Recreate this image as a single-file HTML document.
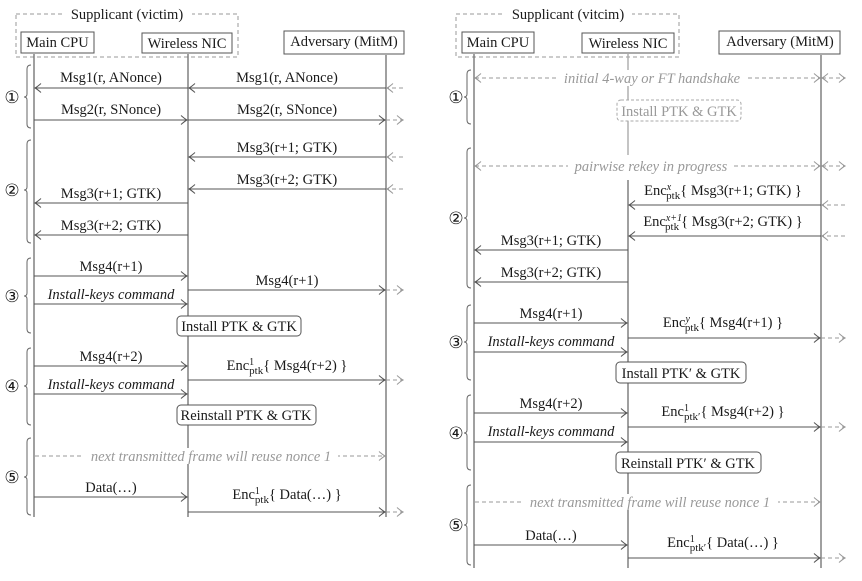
<!DOCTYPE html>
<html><head><meta charset="utf-8"><style>
html,body{margin:0;padding:0;background:#fff;}
svg{display:block;font-family:"Liberation Serif",serif;}
text{font-size:14.5px;fill:#1a1a1a;}
.i{font-style:italic;}
.g{fill:#999;}
.ln{stroke:#555;stroke-width:1;fill:none;}
.ll{stroke:#777;stroke-width:1.4;fill:none;}
.dd{stroke:#999;stroke-width:1;stroke-dasharray:4,3;fill:none;}
.br{stroke:#666;stroke-width:1;fill:none;}
.c{font-family:"DejaVu Sans",sans-serif;font-size:17px;}
</style></head><body>
<svg width="862" height="581" viewBox="0 0 862 581" xmlns="http://www.w3.org/2000/svg">
<defs>
<marker id="a" markerUnits="userSpaceOnUse" markerWidth="12" markerHeight="12" refX="0" refY="0" viewBox="-8 -6 10 12" orient="auto"><path d="M-6,-4.5 Q-2,-1 0,0 Q-2,1 -6,4.5" fill="none" stroke="#555" stroke-width="1"/></marker>
<marker id="b" markerUnits="userSpaceOnUse" markerWidth="12" markerHeight="12" refX="0" refY="0" viewBox="-8 -6 10 12" orient="auto"><path d="M-6,-4.5 Q-2,-1 0,0 Q-2,1 -6,4.5" fill="none" stroke="#999" stroke-width="1"/></marker>
<marker id="bs" markerUnits="userSpaceOnUse" markerWidth="12" markerHeight="12" refX="0" refY="0" viewBox="-2 -6 10 12" orient="auto"><path d="M6,-4.5 Q2,-1 0,0 Q2,1 6,4.5" fill="none" stroke="#999" stroke-width="1"/></marker>
</defs>

<!-- ============ LEFT PANEL ============ -->
<rect x="16" y="14" width="222" height="43" class="dd" stroke="#777"/>
<rect x="64" y="6" width="128" height="16" fill="#fff"/>
<text x="127" y="19" text-anchor="middle">Supplicant (victim)</text>
<rect x="21" y="32" width="73" height="21" fill="#fff" stroke="#555"/>
<text x="57.5" y="47" text-anchor="middle">Main CPU</text>
<rect x="142" y="33" width="90" height="20" fill="#fff" stroke="#555"/>
<text x="187" y="48" text-anchor="middle">Wireless NIC</text>
<rect x="284" y="31" width="120" height="23" fill="#fff" stroke="#555"/>
<text x="344" y="46" text-anchor="middle">Adversary (MitM)</text>
<line x1="34" y1="54" x2="34" y2="517" class="ll"/>
<line x1="188" y1="54" x2="188" y2="517" class="ll"/>
<line x1="386" y1="55" x2="386" y2="517" class="ll"/>

<path class="br" d="M31,65 Q27,65 27,69 L27,94 Q27,97 24,97 Q27,97 27,100 L27,124 Q27,128 31,128"/>
<text x="12" y="103" text-anchor="middle" class="c">①</text>
<path class="br" d="M31,140 Q27,140 27,144 L27,187 Q27,190 24,190 Q27,190 27,193 L27,239 Q27,243 31,243"/>
<text x="12" y="196" text-anchor="middle" class="c">②</text>
<path class="br" d="M31,258 Q27,258 27,262 L27,293 Q27,296 24,296 Q27,296 27,299 L27,329 Q27,333 31,333"/>
<text x="12" y="302" text-anchor="middle" class="c">③</text>
<path class="br" d="M31,348 Q27,348 27,352 L27,383 Q27,386 24,386 Q27,386 27,389 L27,421 Q27,425 31,425"/>
<text x="12" y="392" text-anchor="middle" class="c">④</text>
<path class="br" d="M31,438 Q27,438 27,442 L27,474 Q27,477 24,477 Q27,477 27,480 L27,511 Q27,515 31,515"/>
<text x="12" y="483" text-anchor="middle" class="c">⑤</text>

<line x1="188" y1="88" x2="35" y2="88" class="ln" marker-end="url(#a)"/>
<text x="111" y="82" text-anchor="middle">Msg1(r, ANonce)</text>
<line x1="386" y1="88" x2="189" y2="88" class="ln" marker-end="url(#a)"/>
<text x="287" y="82" text-anchor="middle">Msg1(r, ANonce)</text>
<line x1="403" y1="88" x2="387" y2="88" class="dd" marker-end="url(#b)"/>

<line x1="34" y1="120" x2="187" y2="120" class="ln" marker-end="url(#a)"/>
<text x="111" y="114" text-anchor="middle">Msg2(r, SNonce)</text>
<line x1="188" y1="120" x2="385" y2="120" class="ln" marker-end="url(#a)"/>
<text x="287" y="114" text-anchor="middle">Msg2(r, SNonce)</text>
<line x1="386" y1="120" x2="403" y2="120" class="dd" marker-end="url(#b)"/>

<line x1="386" y1="157" x2="189" y2="157" class="ln" marker-end="url(#a)"/>
<text x="287" y="152" text-anchor="middle">Msg3(r+1; GTK)</text>
<line x1="403" y1="157" x2="387" y2="157" class="dd" marker-end="url(#b)"/>
<line x1="386" y1="189" x2="189" y2="189" class="ln" marker-end="url(#a)"/>
<text x="287" y="184" text-anchor="middle">Msg3(r+2; GTK)</text>
<line x1="403" y1="189" x2="387" y2="189" class="dd" marker-end="url(#b)"/>

<line x1="188" y1="203" x2="35" y2="203" class="ln" marker-end="url(#a)"/>
<text x="111" y="198" text-anchor="middle">Msg3(r+1; GTK)</text>
<line x1="188" y1="235" x2="35" y2="235" class="ln" marker-end="url(#a)"/>
<text x="111" y="230" text-anchor="middle">Msg3(r+2; GTK)</text>

<line x1="34" y1="276" x2="187" y2="276" class="ln" marker-end="url(#a)"/>
<text x="111" y="271" text-anchor="middle">Msg4(r+1)</text>
<line x1="188" y1="290" x2="385" y2="290" class="ln" marker-end="url(#a)"/>
<text x="287" y="285" text-anchor="middle">Msg4(r+1)</text>
<line x1="386" y1="290" x2="403" y2="290" class="dd" marker-end="url(#b)"/>
<line x1="34" y1="304" x2="187" y2="304" class="ln" marker-end="url(#a)"/>
<text x="111" y="299" text-anchor="middle" class="i">Install-keys command</text>
<rect x="177" y="316" width="124" height="20" rx="4" fill="#fff" stroke="#555"/>
<text x="239" y="331" text-anchor="middle">Install PTK &amp; GTK</text>

<line x1="34" y1="366" x2="187" y2="366" class="ln" marker-end="url(#a)"/>
<text x="111" y="361" text-anchor="middle">Msg4(r+2)</text>
<line x1="188" y1="380" x2="385" y2="380" class="ln" marker-end="url(#a)"/>
<text x="287" y="370" text-anchor="middle">Enc<tspan font-size="10" dy="-5">1</tspan><tspan font-size="11" dx="-5" dy="9">ptk</tspan><tspan dy="-4">{ Msg4(r+2) }</tspan></text>
<line x1="386" y1="380" x2="403" y2="380" class="dd" marker-end="url(#b)"/>
<line x1="34" y1="394" x2="187" y2="394" class="ln" marker-end="url(#a)"/>
<text x="111" y="389" text-anchor="middle" class="i">Install-keys command</text>
<rect x="177" y="405" width="139" height="20" rx="4" fill="#fff" stroke="#555"/>
<text x="246" y="420" text-anchor="middle">Reinstall PTK &amp; GTK</text>

<line x1="35" y1="456" x2="385" y2="456" class="dd" marker-end="url(#b)"/>
<rect x="84" y="448" width="254" height="16" fill="#fff"/>
<text x="211" y="461" text-anchor="middle" class="i g">next transmitted frame will reuse nonce 1</text>

<line x1="34" y1="497" x2="187" y2="497" class="ln" marker-end="url(#a)"/>
<text x="111" y="492" text-anchor="middle">Data(…)</text>
<line x1="188" y1="512" x2="385" y2="512" class="ln" marker-end="url(#a)"/>
<text x="287" y="499" text-anchor="middle">Enc<tspan font-size="10" dy="-5">1</tspan><tspan font-size="11" dx="-5" dy="9">ptk</tspan><tspan dy="-4">{ Data(…) }</tspan></text>
<line x1="386" y1="512" x2="403" y2="512" class="dd" marker-end="url(#b)"/>

<!-- ============ RIGHT PANEL ============ -->
<rect x="456" y="14" width="223" height="43" class="dd" stroke="#777"/>
<rect x="504" y="6" width="128" height="16" fill="#fff"/>
<text x="568" y="19" text-anchor="middle">Supplicant (vitcim)</text>
<rect x="462" y="32" width="72" height="21" fill="#fff" stroke="#555"/>
<text x="498" y="47" text-anchor="middle">Main CPU</text>
<rect x="582" y="33" width="92" height="20" fill="#fff" stroke="#555"/>
<text x="628" y="48" text-anchor="middle">Wireless NIC</text>
<rect x="719" y="31" width="121" height="23" fill="#fff" stroke="#555"/>
<text x="780" y="46" text-anchor="middle">Adversary (MitM)</text>
<line x1="474" y1="54" x2="474" y2="568" class="ll"/>
<line x1="628" y1="54" x2="628" y2="155" stroke="#aaa" stroke-width="1.4"/>
<line x1="628" y1="180" x2="628" y2="568" class="ll"/>
<line x1="821" y1="55" x2="821" y2="568" class="ll"/>

<path class="br" d="M471,70 Q467,70 467,74 L467,94 Q467,97 464,97 Q467,97 467,100 L467,120 Q467,124 471,124"/>
<text x="456" y="103" text-anchor="middle" class="c">①</text>
<path class="br" d="M471,148 Q467,148 467,152 L467,215 Q467,218 464,218 Q467,218 467,221 L467,284 Q467,288 471,288"/>
<text x="456" y="224" text-anchor="middle" class="c">②</text>
<path class="br" d="M471,305 Q467,305 467,309 L467,339 Q467,342 464,342 Q467,342 467,345 L467,376 Q467,380 471,380"/>
<text x="456" y="348" text-anchor="middle" class="c">③</text>
<path class="br" d="M471,395 Q467,395 467,399 L467,430 Q467,433 464,433 Q467,433 467,436 L467,466 Q467,470 471,470"/>
<text x="456" y="439" text-anchor="middle" class="c">④</text>
<path class="br" d="M471,485 Q467,485 467,489 L467,522 Q467,525 464,525 Q467,525 467,528 L467,561 Q467,565 471,565"/>
<text x="456" y="531" text-anchor="middle" class="c">⑤</text>

<line x1="475" y1="78" x2="820" y2="78" class="dd" marker-start="url(#bs)" marker-end="url(#b)"/>
<line x1="822" y1="78" x2="845" y2="78" class="dd" marker-start="url(#bs)" marker-end="url(#b)"/>
<rect x="558" y="70" width="188" height="16" fill="#fff"/>
<text x="652" y="83" text-anchor="middle" class="i g">initial 4-way or FT handshake</text>
<rect x="617" y="100" width="124" height="21" rx="4" fill="#fff" stroke="#aaa" stroke-dasharray="3,2"/>
<text x="679" y="116" text-anchor="middle" class="g">Install PTK &amp; GTK</text>

<line x1="475" y1="166" x2="820" y2="166" class="dd" marker-start="url(#bs)" marker-end="url(#b)"/>
<line x1="822" y1="166" x2="845" y2="166" class="dd" marker-start="url(#bs)" marker-end="url(#b)"/>
<rect x="568" y="158" width="166" height="16" fill="#fff"/>
<text x="651" y="171" text-anchor="middle" class="i g">pairwise rekey in progress</text>

<line x1="821" y1="205" x2="629" y2="205" class="ln" marker-end="url(#a)"/>
<text x="723" y="195" text-anchor="middle">Enc<tspan font-size="10" class="i" dy="-5">x</tspan><tspan font-size="11" dx="-5" dy="9">ptk</tspan><tspan dy="-4">{ Msg3(r+1; GTK) }</tspan></text>
<line x1="845" y1="205" x2="822" y2="205" class="dd" marker-end="url(#b)"/>
<line x1="821" y1="236" x2="629" y2="236" class="ln" marker-end="url(#a)"/>
<text x="723" y="226" text-anchor="middle">Enc<tspan font-size="10" class="i" dy="-5">x+1</tspan><tspan font-size="11" dx="-17" dy="9">ptk</tspan><tspan dx="2" dy="-4">{ Msg3(r+2; GTK) }</tspan></text>
<line x1="845" y1="236" x2="822" y2="236" class="dd" marker-end="url(#b)"/>

<line x1="628" y1="250" x2="475" y2="250" class="ln" marker-end="url(#a)"/>
<text x="551" y="245" text-anchor="middle">Msg3(r+1; GTK)</text>
<line x1="628" y1="282" x2="475" y2="282" class="ln" marker-end="url(#a)"/>
<text x="551" y="277" text-anchor="middle">Msg3(r+2; GTK)</text>

<line x1="474" y1="323" x2="627" y2="323" class="ln" marker-end="url(#a)"/>
<text x="551" y="318" text-anchor="middle">Msg4(r+1)</text>
<line x1="628" y1="338" x2="820" y2="338" class="ln" marker-end="url(#a)"/>
<text x="723" y="327" text-anchor="middle">Enc<tspan font-size="10" class="i" dy="-5">y</tspan><tspan font-size="11" dx="-5" dy="9">ptk</tspan><tspan dy="-4">{ Msg4(r+1) }</tspan></text>
<line x1="821" y1="338" x2="845" y2="338" class="dd" marker-end="url(#b)"/>
<line x1="474" y1="352" x2="627" y2="352" class="ln" marker-end="url(#a)"/>
<text x="551" y="346" text-anchor="middle" class="i">Install-keys command</text>
<rect x="616" y="362" width="130" height="21" rx="4" fill="#fff" stroke="#555"/>
<text x="681" y="378" text-anchor="middle">Install PTK′ &amp; GTK</text>

<line x1="474" y1="413" x2="627" y2="413" class="ln" marker-end="url(#a)"/>
<text x="551" y="408" text-anchor="middle">Msg4(r+2)</text>
<line x1="628" y1="427" x2="820" y2="427" class="ln" marker-end="url(#a)"/>
<text x="723" y="416" text-anchor="middle">Enc<tspan font-size="10" dy="-5">1</tspan><tspan font-size="11" dx="-5" dy="9">ptk′</tspan><tspan dy="-4">{ Msg4(r+2) }</tspan></text>
<line x1="821" y1="427" x2="845" y2="427" class="dd" marker-end="url(#b)"/>
<line x1="474" y1="442" x2="627" y2="442" class="ln" marker-end="url(#a)"/>
<text x="551" y="436" text-anchor="middle" class="i">Install-keys command</text>
<rect x="616" y="452" width="145" height="21" rx="4" fill="#fff" stroke="#555"/>
<text x="688" y="468" text-anchor="middle">Reinstall PTK′ &amp; GTK</text>

<line x1="475" y1="502" x2="820" y2="502" class="dd" marker-end="url(#b)"/>
<rect x="524" y="494" width="254" height="16" fill="#fff"/>
<text x="650" y="507" text-anchor="middle" class="i g">next transmitted frame will reuse nonce 1</text>

<line x1="474" y1="545" x2="627" y2="545" class="ln" marker-end="url(#a)"/>
<text x="551" y="540" text-anchor="middle">Data(…)</text>
<line x1="628" y1="558" x2="820" y2="558" class="ln" marker-end="url(#a)"/>
<text x="723" y="547" text-anchor="middle">Enc<tspan font-size="10" dy="-5">1</tspan><tspan font-size="11" dx="-5" dy="9">ptk′</tspan><tspan dy="-4">{ Data(…) }</tspan></text>
<line x1="821" y1="558" x2="845" y2="558" class="dd" marker-end="url(#b)"/>
</svg>
</body></html>
